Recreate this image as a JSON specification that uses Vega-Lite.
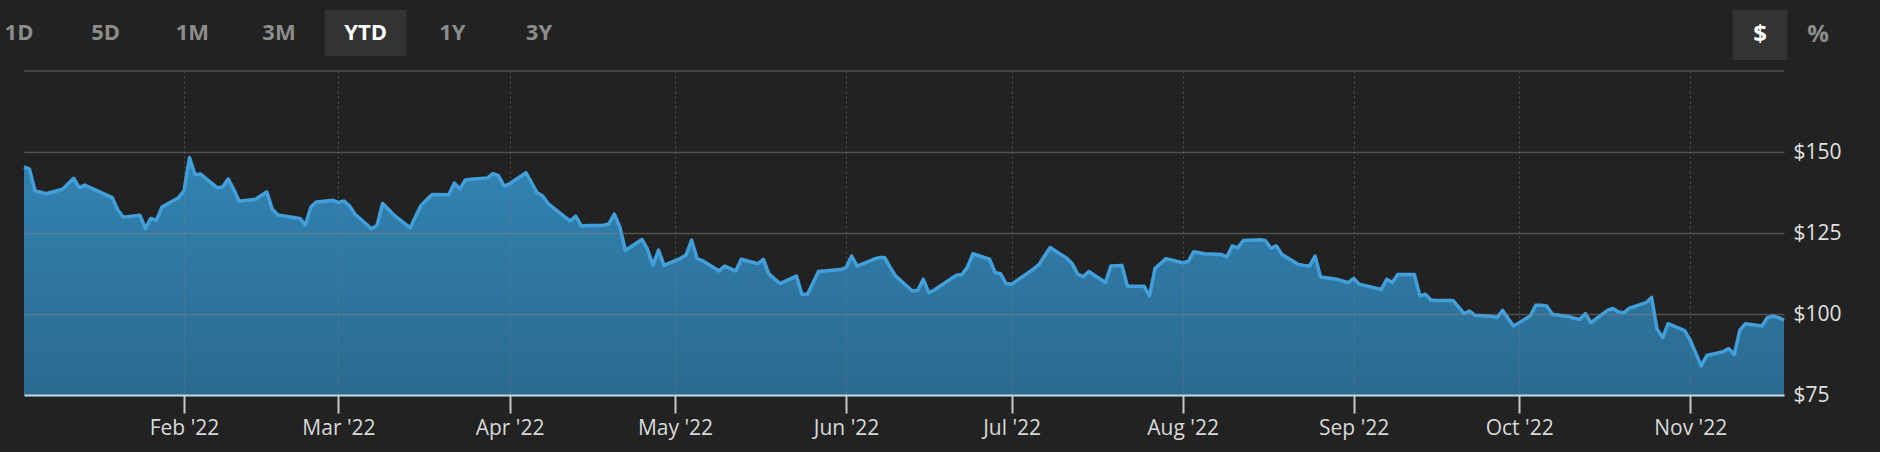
{
  "$schema": "https://vega.github.io/schema/vega-lite/v6.json",
  "background": "#222222",
  "padding": {"left": 0, "top": 10, "right": 0, "bottom": 0},
  "config": {"view": {"stroke": null, "fill": null}, "font": "Open Sans"},
  "datasets": {
    "tabs": [
      {"label": "1D", "active": false}, {"label": "5D", "active": false}, {"label": "1M", "active": false},
      {"label": "3M", "active": false}, {"label": "YTD", "active": true}, {"label": "1Y", "active": false},
      {"label": "3Y", "active": false}
    ],
    "units": [{"label": "$", "active": true}, {"label": "%", "active": false}],
    "prices": [
      {"date": "2022-01-03", "price": 145.4}, {"date": "2022-01-04", "price": 144.7}, {"date": "2022-01-05", "price": 138.0},
      {"date": "2022-01-06", "price": 137.6}, {"date": "2022-01-07", "price": 137.1}, {"date": "2022-01-10", "price": 138.5},
      {"date": "2022-01-11", "price": 140.2}, {"date": "2022-01-12", "price": 141.9}, {"date": "2022-01-13", "price": 139.0},
      {"date": "2022-01-14", "price": 139.8}, {"date": "2022-01-18", "price": 136.7}, {"date": "2022-01-19", "price": 135.9},
      {"date": "2022-01-20", "price": 132.1}, {"date": "2022-01-21", "price": 129.9}, {"date": "2022-01-24", "price": 130.5},
      {"date": "2022-01-25", "price": 126.4}, {"date": "2022-01-26", "price": 129.5}, {"date": "2022-01-27", "price": 128.9},
      {"date": "2022-01-28", "price": 133.0}, {"date": "2022-01-31", "price": 135.9}, {"date": "2022-02-01", "price": 138.0},
      {"date": "2022-02-02", "price": 148.3}, {"date": "2022-02-03", "price": 143.0}, {"date": "2022-02-04", "price": 143.2},
      {"date": "2022-02-07", "price": 139.0}, {"date": "2022-02-08", "price": 139.2}, {"date": "2022-02-09", "price": 141.7},
      {"date": "2022-02-10", "price": 138.5}, {"date": "2022-02-11", "price": 134.8}, {"date": "2022-02-14", "price": 135.4},
      {"date": "2022-02-15", "price": 136.6}, {"date": "2022-02-16", "price": 137.7}, {"date": "2022-02-17", "price": 132.3},
      {"date": "2022-02-18", "price": 130.6}, {"date": "2022-02-22", "price": 129.5}, {"date": "2022-02-23", "price": 127.5},
      {"date": "2022-02-24", "price": 133.0}, {"date": "2022-02-25", "price": 134.6}, {"date": "2022-02-28", "price": 135.1},
      {"date": "2022-03-01", "price": 134.4}, {"date": "2022-03-02", "price": 134.9}, {"date": "2022-03-03", "price": 133.3},
      {"date": "2022-03-04", "price": 130.8}, {"date": "2022-03-07", "price": 126.3}, {"date": "2022-03-08", "price": 127.4},
      {"date": "2022-03-09", "price": 134.1}, {"date": "2022-03-10", "price": 132.4}, {"date": "2022-03-11", "price": 130.6},
      {"date": "2022-03-14", "price": 126.6}, {"date": "2022-03-15", "price": 130.2}, {"date": "2022-03-16", "price": 133.6},
      {"date": "2022-03-17", "price": 135.3}, {"date": "2022-03-18", "price": 136.9}, {"date": "2022-03-21", "price": 136.8},
      {"date": "2022-03-22", "price": 140.4}, {"date": "2022-03-23", "price": 138.6}, {"date": "2022-03-24", "price": 141.4},
      {"date": "2022-03-25", "price": 141.6}, {"date": "2022-03-28", "price": 142.0}, {"date": "2022-03-29", "price": 143.3},
      {"date": "2022-03-30", "price": 142.7}, {"date": "2022-03-31", "price": 139.5}, {"date": "2022-04-01", "price": 140.2},
      {"date": "2022-04-04", "price": 143.6}, {"date": "2022-04-05", "price": 140.5}, {"date": "2022-04-06", "price": 137.4},
      {"date": "2022-04-07", "price": 136.4}, {"date": "2022-04-08", "price": 134.1}, {"date": "2022-04-11", "price": 130.0},
      {"date": "2022-04-12", "price": 128.7}, {"date": "2022-04-13", "price": 130.2}, {"date": "2022-04-14", "price": 127.2},
      {"date": "2022-04-18", "price": 127.4}, {"date": "2022-04-19", "price": 127.8}, {"date": "2022-04-20", "price": 130.8},
      {"date": "2022-04-21", "price": 126.8}, {"date": "2022-04-22", "price": 119.6}, {"date": "2022-04-25", "price": 123.0},
      {"date": "2022-04-26", "price": 120.0}, {"date": "2022-04-27", "price": 115.0}, {"date": "2022-04-28", "price": 119.7},
      {"date": "2022-04-29", "price": 115.0}, {"date": "2022-05-02", "price": 117.2}, {"date": "2022-05-03", "price": 118.2},
      {"date": "2022-05-04", "price": 122.8}, {"date": "2022-05-05", "price": 117.1}, {"date": "2022-05-06", "price": 116.4},
      {"date": "2022-05-09", "price": 113.3}, {"date": "2022-05-10", "price": 114.8}, {"date": "2022-05-11", "price": 114.0},
      {"date": "2022-05-12", "price": 113.3}, {"date": "2022-05-13", "price": 116.9}, {"date": "2022-05-16", "price": 115.5},
      {"date": "2022-05-17", "price": 116.9}, {"date": "2022-05-18", "price": 112.4}, {"date": "2022-05-19", "price": 110.9},
      {"date": "2022-05-20", "price": 109.4}, {"date": "2022-05-23", "price": 111.7}, {"date": "2022-05-24", "price": 106.1},
      {"date": "2022-05-25", "price": 106.1}, {"date": "2022-05-26", "price": 109.6}, {"date": "2022-05-27", "price": 113.1},
      {"date": "2022-05-31", "price": 113.7}, {"date": "2022-06-01", "price": 114.3}, {"date": "2022-06-02", "price": 117.9},
      {"date": "2022-06-03", "price": 114.8}, {"date": "2022-06-06", "price": 116.9}, {"date": "2022-06-07", "price": 117.4},
      {"date": "2022-06-08", "price": 117.4}, {"date": "2022-06-09", "price": 114.4}, {"date": "2022-06-10", "price": 111.7},
      {"date": "2022-06-13", "price": 107.1}, {"date": "2022-06-14", "price": 107.3}, {"date": "2022-06-15", "price": 110.7},
      {"date": "2022-06-16", "price": 106.6}, {"date": "2022-06-17", "price": 107.4}, {"date": "2022-06-21", "price": 112.0},
      {"date": "2022-06-22", "price": 112.2}, {"date": "2022-06-23", "price": 114.5}, {"date": "2022-06-24", "price": 118.6},
      {"date": "2022-06-27", "price": 116.9}, {"date": "2022-06-28", "price": 112.8}, {"date": "2022-06-29", "price": 112.4},
      {"date": "2022-06-30", "price": 109.4}, {"date": "2022-07-01", "price": 109.2}, {"date": "2022-07-05", "price": 113.9},
      {"date": "2022-07-06", "price": 115.3}, {"date": "2022-07-07", "price": 118.0}, {"date": "2022-07-08", "price": 120.5},
      {"date": "2022-07-11", "price": 117.2}, {"date": "2022-07-12", "price": 115.5}, {"date": "2022-07-13", "price": 112.3},
      {"date": "2022-07-14", "price": 111.5}, {"date": "2022-07-15", "price": 113.1}, {"date": "2022-07-18", "price": 109.7},
      {"date": "2022-07-19", "price": 114.8}, {"date": "2022-07-20", "price": 114.9}, {"date": "2022-07-21", "price": 115.0},
      {"date": "2022-07-22", "price": 108.6}, {"date": "2022-07-25", "price": 108.6}, {"date": "2022-07-26", "price": 105.6},
      {"date": "2022-07-27", "price": 114.1}, {"date": "2022-07-28", "price": 115.6}, {"date": "2022-07-29", "price": 117.1},
      {"date": "2022-08-01", "price": 115.8}, {"date": "2022-08-02", "price": 116.2}, {"date": "2022-08-03", "price": 119.2},
      {"date": "2022-08-04", "price": 118.9}, {"date": "2022-08-05", "price": 118.6}, {"date": "2022-08-08", "price": 118.4},
      {"date": "2022-08-09", "price": 117.6}, {"date": "2022-08-10", "price": 121.0}, {"date": "2022-08-11", "price": 120.4},
      {"date": "2022-08-12", "price": 122.7}, {"date": "2022-08-15", "price": 122.9}, {"date": "2022-08-16", "price": 122.7},
      {"date": "2022-08-17", "price": 120.3}, {"date": "2022-08-18", "price": 121.0}, {"date": "2022-08-19", "price": 118.4},
      {"date": "2022-08-22", "price": 115.3}, {"date": "2022-08-23", "price": 115.0}, {"date": "2022-08-24", "price": 114.8},
      {"date": "2022-08-25", "price": 117.9}, {"date": "2022-08-26", "price": 111.4}, {"date": "2022-08-29", "price": 110.7},
      {"date": "2022-08-30", "price": 110.2}, {"date": "2022-08-31", "price": 109.7}, {"date": "2022-09-01", "price": 111.0},
      {"date": "2022-09-02", "price": 109.2}, {"date": "2022-09-06", "price": 107.6}, {"date": "2022-09-07", "price": 110.7},
      {"date": "2022-09-08", "price": 109.7}, {"date": "2022-09-09", "price": 112.2}, {"date": "2022-09-12", "price": 112.2},
      {"date": "2022-09-13", "price": 105.6}, {"date": "2022-09-14", "price": 106.1}, {"date": "2022-09-15", "price": 104.3},
      {"date": "2022-09-16", "price": 104.2}, {"date": "2022-09-19", "price": 104.2}, {"date": "2022-09-20", "price": 102.2},
      {"date": "2022-09-21", "price": 100.1}, {"date": "2022-09-22", "price": 100.9}, {"date": "2022-09-23", "price": 99.6},
      {"date": "2022-09-26", "price": 99.3}, {"date": "2022-09-27", "price": 98.9}, {"date": "2022-09-28", "price": 101.1},
      {"date": "2022-09-29", "price": 98.6}, {"date": "2022-09-30", "price": 96.3}, {"date": "2022-10-03", "price": 99.4},
      {"date": "2022-10-04", "price": 102.7}, {"date": "2022-10-05", "price": 102.7}, {"date": "2022-10-06", "price": 102.5},
      {"date": "2022-10-07", "price": 99.9}, {"date": "2022-10-10", "price": 99.2}, {"date": "2022-10-11", "price": 98.7},
      {"date": "2022-10-12", "price": 98.4}, {"date": "2022-10-13", "price": 100.1}, {"date": "2022-10-14", "price": 97.3},
      {"date": "2022-10-17", "price": 101.1}, {"date": "2022-10-18", "price": 101.7}, {"date": "2022-10-19", "price": 100.6},
      {"date": "2022-10-20", "price": 100.4}, {"date": "2022-10-21", "price": 101.8}, {"date": "2022-10-24", "price": 103.5},
      {"date": "2022-10-25", "price": 105.1}, {"date": "2022-10-26", "price": 95.3}, {"date": "2022-10-27", "price": 92.7},
      {"date": "2022-10-28", "price": 97.0}, {"date": "2022-10-31", "price": 94.9}, {"date": "2022-11-01", "price": 91.9},
      {"date": "2022-11-02", "price": 88.0}, {"date": "2022-11-03", "price": 84.0}, {"date": "2022-11-04", "price": 87.2},
      {"date": "2022-11-07", "price": 88.4}, {"date": "2022-11-08", "price": 89.3}, {"date": "2022-11-09", "price": 87.5},
      {"date": "2022-11-10", "price": 95.0}, {"date": "2022-11-11", "price": 97.0}, {"date": "2022-11-14", "price": 96.3},
      {"date": "2022-11-15", "price": 98.9}, {"date": "2022-11-16", "price": 99.4}, {"date": "2022-11-17", "price": 98.9},
      {"date": "2022-11-18", "price": 98.1}
    ]
  },
  "spacing": 10,
  "vconcat": [
    {
      "spacing": 1173,
      "hconcat": [
        {
          "width": 558,
          "height": 46,
          "data": {"name": "tabs"},
          "encoding": {
            "x": {"field": "label", "type": "nominal", "sort": null,
                  "scale": {"type": "point", "domain": ["1D", "5D", "1M", "3M", "YTD", "1Y", "3Y"], "range": [19, 539], "padding": 0},
                  "axis": null}
          },
          "layer": [
            {"transform": [{"filter": "datum.active"}], "mark": {"type": "bar", "width": 82, "color": "#333333"}},
            {"mark": {"type": "text", "font": "Open Sans", "fontWeight": "bold", "fontSize": 22, "baseline": "middle"},
             "encoding": {"text": {"field": "label"},
                          "color": {"condition": {"test": "datum.active", "value": "#ffffff"}, "value": "#8c8c8c"}}}
          ]
        },
        {
          "width": 149,
          "height": 50,
          "data": {"name": "units"},
          "encoding": {
            "x": {"field": "label", "type": "nominal", "sort": null,
                  "scale": {"type": "point", "domain": ["$", "%"], "range": [29, 87], "padding": 0},
                  "axis": null}
          },
          "layer": [
            {"transform": [{"filter": "datum.active"}], "mark": {"type": "bar", "width": 55, "color": "#333333"}},
            {"mark": {"type": "text", "font": "Open Sans", "fontWeight": "bold", "fontSize": 24, "baseline": "middle"},
             "encoding": {"text": {"field": "label"},
                          "color": {"condition": {"test": "datum.active", "value": "#ffffff"}, "value": "#8c8c8c"}}}
          ]
        }
      ]
    },
    {
      "spacing": 17,
      "hconcat": [
        {
          "width": 5,
          "height": 382,
          "data": {"values": []},
          "mark": {"type": "text"},
          "encoding": {"text": {"value": ""}}
        },
        {
          "width": 1760,
          "height": 324,
          "data": {"name": "prices"},
          "layer": [
            {
              "mark": {"type": "area", "clip": true,
                       "color": {"gradient": "linear", "x1": 0, "y1": 1, "x2": 0, "y2": 0,
                                 "stops": [{"offset": 0, "color": "#25506a"}, {"offset": 1, "color": "#3283b3"}]}},
              "encoding": {
                "x": {"field": "date", "type": "temporal", "scale": {"type": "utc", "nice": false},
                      "axis": {"title": null, "format": "%b '%y", "tickCount": {"interval": "month", "step": 1},
                               "grid": true, "gridColor": "#848484", "gridOpacity": 0.47, "gridDash": [2, 3], "gridWidth": 1,
                               "domainColor": "#c3d8e6", "domainWidth": 2, "tickColor": "#c8c8c8", "tickWidth": 2, "tickSize": 18,
                               "labelPadding": 4, "labelFont": "Open Sans", "labelFontSize": 21, "labelColor": "#d9d9d9",
                               "labelFlush": false, "labelOverlap": false, "zindex": 1}},
                "y": {"field": "price", "type": "quantitative", "scale": {"domain": [75, 175], "zero": false, "nice": false},
                      "axis": {"title": null, "orient": "right", "values": [75, 100, 125, 150], "labelExpr": "'$' + datum.value",
                               "grid": true, "gridColor": "#848484", "gridOpacity": 0.47, "gridWidth": 1.5,
                               "domain": false, "ticks": false, "labelPadding": 9, "labelFont": "Open Sans", "labelFontSize": 21,
                               "labelColor": "#e0e0e0", "labelFlush": false, "zindex": 1}}
              }
            },
            {
              "mark": {"type": "line", "color": "#41a0dc", "strokeWidth": 3.5, "strokeJoin": "round"},
              "encoding": {
                "x": {"field": "date", "type": "temporal"},
                "y": {"field": "price", "type": "quantitative"}
              }
            },
            {
              "data": {"values": [{"level": 175}]},
              "mark": {"type": "rule", "color": "#505050", "strokeWidth": 1.5},
              "encoding": {"y": {"field": "level", "type": "quantitative"}}
            }
          ]
        }
      ]
    }
  ]
}
